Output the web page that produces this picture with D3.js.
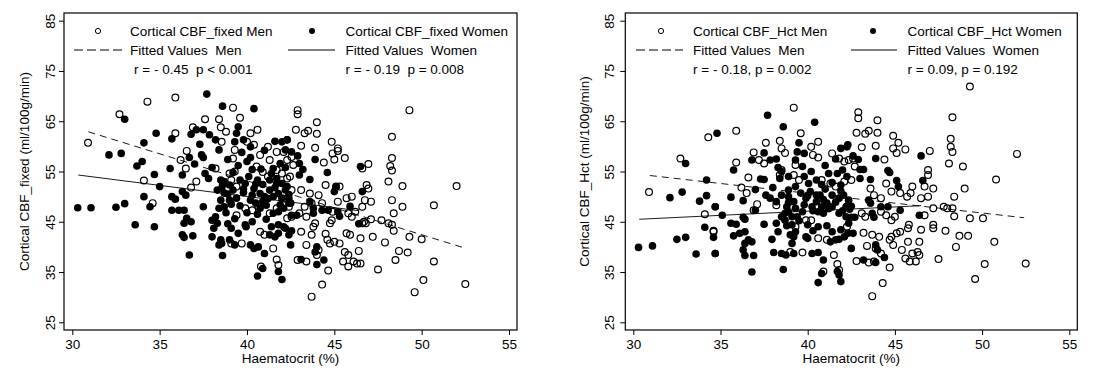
<!DOCTYPE html>
<html><head><meta charset="utf-8">
<script src="https://cdn.jsdelivr.net/npm/d3@7"></script>
<style>
html,body{margin:0;padding:0;background:#fff;}
svg{display:block;font-family:"Liberation Sans",Arial,sans-serif;}
text{white-space:pre;}
</style></head><body>
<svg id="c" width="1104" height="392"></svg>
<script>
const xTicks = [30,35,40,45,50,55];
const yTicks = [25,35,45,55,65,75,85];

// Left panel: Cortical CBF_fixed vs Haematocrit
const menFixed = [
[30.9,60.7],[32.7,66.4],[34.3,68.9],[34.1,53.2],
[35.9,69.7],[39.2,67.7],[39.6,65.7],[37.6,65.4],[38.4,65.4],[36.9,63.8],[38.5,63.8],[38.8,62.9],[38.55,60.9],[35.9,62.6],
[40.2,62.6],[40.6,63.3],[40.0,60.9],[40.4,60.3],[39.3,59.3],[39.2,57.6],[40.75,58.3],[41.3,57.3],[41.2,59.9],[41.7,58.9],
[42.1,58.9],[42.3,57.3],[36.55,59.1],[36.2,57.3],[36.5,55.6],[38.2,55.6],[37.1,53.0],[36.8,51.8],[39.0,54.6],[39.3,55.0],
[39.1,53.3],[39.4,52.0],[40.55,56.0],[40.9,54.9],[41.2,54.0],[41.7,55.3],[42.0,54.6],[42.3,53.6],[34.6,48.7],[39.9,47.7],
[40.3,47.3],[40.65,48.0],[39.4,46.3],[41.3,46.7],[41.7,47.7],[40.75,43.0],[41.0,42.4],[41.5,39.7],[41.7,37.5],[41.8,36.4],
[40.8,36.1],[39.7,40.7],[39.1,40.7],[42.3,45.7],
[42.9,67.2],[42.9,66.4],[49.3,67.2],[44.0,64.8],[42.8,63.3],[43.3,62.6],[43.5,63.1],[44.0,62.5],[44.85,60.9],[45.2,59.6],
[45.2,59.1],[45.6,57.7],[44.9,58.6],[45.0,57.4],[43.1,60.1],[43.9,59.7],[44.4,56.8],[48.3,61.9],[48.3,57.7],[48.2,56.1],
[48.3,55.2],[46.95,56.5],[48.1,53.0],[48.9,52.1],[46.6,55.6],[46.85,52.3],[46.95,51.6],[42.55,57.9],[42.65,56.3],[42.46,54.0],
[44.5,52.3],[45.1,52.0],[45.3,52.0],[47.1,49.0],[48.3,49.3],[48.9,48.0],[48.4,46.7],[47.1,45.5],[47.7,45.3],[48.1,44.7],
[48.3,44.4],[46.8,44.7],[48.4,43.2],[49.3,42.0],[50.0,41.5],[47.2,42.0],[47.9,40.9],[48.7,39.2],[49.2,38.9],[48.5,37.4],
[50.1,33.4],[49.6,31.0],[47.5,35.5],[44.3,32.5],[43.7,30.1],[44.65,35.3],[45.8,36.1],[46.1,37.1],[46.3,36.7],[46.5,36.7],
[45.6,39.0],[45.8,38.4],[45.5,37.1],[46.4,39.2],[42.9,37.4],[43.4,37.1],[44.0,38.4],[44.1,39.4],[43.4,40.4],[43.1,43.0],
[43.7,42.4],[44.5,42.6],[44.6,41.4],[44.75,40.7],[45.0,41.0],[45.3,40.7],[45.7,42.7],[45.9,42.4],[46.5,41.7],[44.75,44.7],
[44.85,45.3],[43.8,44.0],[43.9,44.7],[46.6,44.7],[46.7,45.0],[46.0,46.0],[46.6,48.0],[45.2,49.0],[45.7,49.7],[46.0,50.0],
[46.75,49.3],[43.1,51.3],[43.6,50.6],[44.1,50.3],[42.55,51.3],[42.2,49.6],[42.4,48.0],[43.3,48.0],[43.7,48.7],[44.3,48.7],
[43.0,46.7],[43.4,46.0],[44.9,47.0],[45.8,46.7],[46.2,47.0],[42.55,46.0],
[52.0,52.1],[50.7,48.3],[50.7,37.1],[52.5,32.6]
];
const womenFixed = [
[30.31,47.8],[31.07,47.8],[32.5,47.9],[33.0,48.6],[33.6,44.4],[34.1,50.0],[33.0,65.4],[32.1,58.3],[32.8,58.6],[34.1,60.7],
[33.7,56.1],[34.0,57.0],
[37.7,70.4],[38.6,68.0],[40.4,67.5],[34.8,62.6],[35.7,61.5],[36.8,62.4],[37.1,63.3],[37.5,63.3],[37.85,62.3],[37.3,60.4],
[38.2,61.3],[39.5,63.9],[39.4,62.6],[39.3,60.9],[39.8,61.3],[40.2,59.9],[38.4,59.3],[36.7,57.8],[37.4,58.3],[37.5,57.8],
[37.0,56.5],[38.0,55.8],[35.6,55.6],[34.7,54.4],[36.3,54.3],[37.6,54.6],[37.8,53.6],[35.0,52.0],[38.5,53.3],[38.6,52.3],
[38.7,50.7],[38.5,49.3],[38.4,47.7],[38.2,46.0],[35.7,50.0],[35.9,49.5],[36.3,51.0],[36.5,50.3],[34.45,48.0],[35.7,47.3],
[36.1,47.3],[36.4,47.3],[37.5,48.0],[36.55,45.7],[36.8,45.0],[36.4,44.7],[34.7,44.0],[36.3,42.4],[36.9,42.2],[36.4,41.9],
[38.0,42.0],[38.5,41.4],[38.55,40.7],[38.4,40.4],[38.0,45.3],[38.3,44.7],[38.1,43.7],[39.1,43.7],[39.5,42.7],[39.0,41.4],
[39.3,40.4],[39.9,44.4],[39.95,44.0],[40.2,40.4],[40.4,39.7],[40.65,40.0],[36.7,38.4],[38.6,38.3],[41.0,38.7],[41.6,42.0],
[41.8,42.7],[41.3,42.4],[41.4,44.0],[41.8,44.4],[42.1,44.0],[41.5,46.7],[41.8,47.0],[40.9,35.7],[40.6,34.2],[41.8,35.1],
[42.0,33.5],
[38.3,51.3],[38.55,51.6],[38.7,53.0],[39.0,52.3],[39.2,51.3],[39.6,53.3],[39.9,52.6],[40.1,54.0],[40.4,51.6],[40.6,53.3],
[40.75,50.6],[41.0,50.0],[41.3,51.3],[41.5,50.0],[41.8,50.6],[42.0,49.7],[42.2,51.3],[41.7,52.6],[41.3,53.3],[40.2,49.3],
[40.5,48.7],[39.4,49.7],[39.0,49.3],[38.7,48.0],[40.75,47.7],[41.1,48.3],[42.1,47.7],[42.4,48.7],[42.3,52.0],[41.9,56.6],
[42.2,55.8],[41.5,55.6],[42.0,60.9],[42.3,61.3],[41.7,53.6],[39.2,54.8],[39.5,56.2],[40.0,57.0],[40.3,55.4],[39.8,50.8],
[40.9,52.4],
[38.9,50.5],[39.1,48.5],[39.6,48.2],[39.8,51.5],[40.3,50.3],[40.5,52.5],[40.9,49.0],[41.2,49.6],[41.6,51.8],[42.0,52.6],
[41.9,48.4],[40.0,46.8],[40.6,46.5],[39.3,45.6],[38.8,46.8],[38.9,44.6],[40.3,45.0],[41.1,45.5],[42.4,50.4],[41.4,54.6],
[40.8,55.5],[40.2,57.8],[39.7,58.8],[38.9,57.4],[41.0,59.2],[41.6,61.0],
[42.3,61.3],[42.2,59.3],[42.55,58.9],[42.9,58.1],[43.0,56.6],[43.2,55.4],[43.0,54.3],[43.6,53.4],[43.9,57.4],[44.6,54.8],
[45.1,51.9],[45.0,51.0],[46.5,56.0],[46.6,51.0],[42.4,49.6],[42.5,48.7],[43.6,49.0],[43.8,47.7],[44.3,47.3],[44.65,47.3],
[45.2,47.0],[45.3,46.1],[45.9,48.1],[46.4,44.6],[42.55,46.3],[42.85,46.3],[42.2,43.7],[42.55,43.2],[42.4,42.4],[42.5,40.4],
[43.8,46.7],[44.0,40.0],[43.9,39.0],[43.1,37.5],[44.0,36.5],[44.4,37.4]
];
// Right panel: Cortical CBF_Hct vs Haematocrit
const menHct = [
[30.9,50.9],[34.1,46.5],[34.6,43.2],[32.7,57.6],[34.3,61.8],
[39.2,67.7],[35.9,63.1],[37.6,60.7],[38.4,61.1],[38.5,59.6],[38.7,58.7],[39.6,62.6],[40.6,60.9],[40.2,59.9],[40.3,58.3],
[40.6,57.8],[36.9,58.8],[37.2,57.3],[37.5,56.6],[35.9,56.8],[38.5,55.3],[38.4,54.3],[39.3,56.3],[39.2,54.3],[39.5,53.3],
[41.4,58.6],[41.8,57.6],[42.1,57.0],[42.35,57.3],[36.6,53.8],[36.2,51.8],[36.5,50.7],[37.1,48.5],[36.9,47.3],[34.6,43.0],
[38.2,48.3],[39.9,45.3],[40.2,45.3],[39.3,44.0],[40.6,41.7],[41.1,41.4],[39.7,38.9],[39.0,39.0],[41.5,38.4],[41.7,36.6],
[41.8,35.4],[40.9,35.1],[42.25,44.0],[40.8,53.3],[41.3,52.6],[41.6,52.0],[42.1,53.0],
[49.3,71.9],[42.9,66.8],[42.9,65.6],[44.0,65.2],[48.3,65.8],[42.8,62.7],[43.3,62.5],[43.5,63.1],[44.0,62.7],[44.9,62.1],
[45.2,60.7],[44.9,59.6],[45.1,58.7],[45.6,59.4],[43.1,59.8],[43.9,60.1],[44.4,57.4],[47.0,59.1],[48.2,61.5],[48.2,59.9],
[48.3,58.9],[48.1,56.6],[48.9,56.0],[46.9,55.3],[46.9,54.3],[49.0,51.6],[48.4,50.0],[46.7,52.0],[47.2,51.6],[46.9,50.0],
[42.5,53.3],[42.7,56.0],[42.6,57.6],[46.0,52.0],[45.9,50.7],[46.5,49.7],[44.5,52.6],[43.6,51.6],[43.8,50.3],[44.2,49.7],
[44.8,51.0],[45.3,50.7],[45.7,50.0],[47.8,48.0],[48.0,47.7],[48.3,47.7],[48.4,46.1],[49.3,45.7],[50.05,45.7],[47.2,47.7],
[46.7,46.3],[47.2,44.4],[47.2,43.7],[47.9,43.2],[46.5,43.4],[45.8,44.4],[45.75,43.7],[45.0,46.0],[44.8,45.3],[44.2,47.0],
[44.5,46.3],[43.1,46.7],[43.3,46.0],[48.7,42.2],[49.2,42.2],[48.5,40.0],[47.5,37.6],[50.15,36.6],[49.6,33.6],[44.7,35.9],
[44.3,32.8],[43.7,30.2],[45.6,37.7],[45.85,37.1],[46.2,37.1],[46.4,38.4],[46.0,38.7],[45.75,41.0],[46.4,41.0],[46.3,39.0],
[45.1,42.7],[45.3,43.0],[44.8,42.0],[44.7,41.4],[43.2,42.8],[43.7,42.4],[44.1,42.0],[43.4,40.2],[43.9,39.7],[44.2,38.7],
[42.8,37.2],[43.5,36.9],[43.8,37.1],[44.9,40.4],[45.4,39.4],
[52.5,36.7],[50.7,41.0],[52.0,58.5],[50.8,53.4]
];
const womenHct = [
[30.3,39.9],[31.1,40.2],[32.5,41.5],[33.0,41.9],[32.1,49.8],[32.8,50.9],[33.6,38.6],[33.8,49.1],[34.2,50.2],[34.1,43.9],
[34.6,41.9],[34.7,38.7],[34.7,48.0],[33.0,56.6],[34.2,53.3],
[37.7,66.2],[38.6,63.9],[40.4,64.8],[34.8,62.6],[35.75,55.3],[36.8,57.3],[37.5,58.7],[37.85,57.3],[38.2,57.5],[37.3,53.5],
[37.5,53.4],[37.0,51.4],[38.3,55.8],[38.5,55.0],[38.4,53.6],[39.5,60.7],[39.4,58.9],[39.3,57.3],[39.8,58.6],[38.0,51.8],
[37.6,50.3],[37.85,49.7],[38.2,49.0],[38.5,50.3],[38.9,51.3],[39.3,52.0],[35.6,49.9],[36.3,49.2],[34.7,48.0],[35.1,46.3],
[35.6,44.7],[35.9,44.5],[36.3,45.9],[36.4,45.5],[37.0,47.3],[37.5,44.5],[35.75,42.2],[36.1,42.7],[36.4,43.0],[36.6,41.4],
[36.8,41.0],[36.4,40.7],[34.7,38.7],[36.3,39.4],[36.4,38.3],[36.9,38.3],[36.8,35.0],[37.95,41.5],[38.05,38.9],[38.5,38.7],
[38.75,38.4],[39.2,38.7],[38.6,35.5],[38.2,44.7],[38.3,43.0],[38.5,46.0],[38.7,46.7],[38.8,48.0],[39.1,44.4],[39.2,42.0],
[39.1,40.7],[39.4,46.0],[39.9,42.0],[40.0,41.7],[40.25,38.7],[40.6,38.9],[40.9,37.4],[40.8,34.7],[40.6,32.9],[41.9,33.1],
[41.7,35.1],[41.8,34.4],[41.3,41.0],[41.6,41.4],[41.8,41.5],[42.1,42.0],[41.4,43.0],[41.9,43.4],[39.8,54.0],[40.05,52.6],
[40.5,53.3],[41.2,54.6],[41.7,54.6],[42.0,55.3],[42.25,59.9],[41.9,59.6],[41.4,48.0],[41.8,46.7],[42.2,46.0],[42.35,44.7],
[38.9,50.0],[39.2,49.0],[39.6,50.7],[39.9,49.7],[40.15,51.0],[40.25,48.0],[40.5,49.0],[40.8,48.0],[41.1,48.7],[40.6,47.0],
[40.9,46.7],[41.4,50.3],[41.8,49.7],[42.06,50.3],[42.35,49.3],[42.2,48.0],[41.9,52.3],[42.25,54.0],[39.7,47.0],[39.3,47.7],
[38.7,45.3],[38.9,47.0],[40.0,50.2],[40.7,50.3],[41.0,51.5],
[38.9,48.8],[39.1,46.0],[39.5,45.2],[39.8,48.4],[40.3,47.2],[40.5,50.3],[40.9,49.4],[41.2,47.6],[41.6,48.9],[42.0,47.2],
[41.9,51.1],[40.0,44.4],[40.6,44.0],[39.3,43.0],[38.8,44.2],[39.0,42.4],[40.3,43.2],[41.1,44.2],[42.4,47.5],[41.4,52.8],
[40.8,52.4],[40.2,55.0],[39.7,56.0],[38.9,54.0],[41.0,56.2],[41.6,57.5],
[42.3,60.3],[42.6,58.1],[42.9,57.4],[43.0,55.4],[43.2,55.4],[43.0,53.6],[43.6,53.4],[43.9,57.6],[44.6,55.2],[44.7,54.8],
[45.1,53.2],[45.2,52.0],[46.5,58.1],[46.6,53.2],[42.3,48.3],[42.5,48.1],[43.5,49.3],[43.6,48.7],[44.2,48.0],[44.6,48.0],
[45.3,47.3],[46.4,46.3],[43.7,46.7],[43.8,45.9],[42.5,45.9],[42.7,45.9],[42.3,42.7],[42.6,42.7],[42.5,39.7],[43.9,40.4],
[44.0,39.4],[43.2,37.4],[43.9,36.9],[44.4,37.9]
];
const fitMenFixed = [[30.92,62.9],[52.49,39.75]];
const fitWomenFixed = [[30.34,54.3],[46.4,47.2]];
const fitMenHct = [[30.95,54.2],[52.41,45.8]];
const fitWomenHct = [[30.34,45.5],[46.5,48.2]];

const panels = [
  {frame:[64,13,517,330], xr:[72.3,509], yTitle:"Cortical CBF_fixed (ml/100g/min)", yTitleX:24, yLabX:50,
   men:menFixed, women:womenFixed, fitM:fitMenFixed, fitW:fitWomenFixed,
   leg:{mk:98, tx:130, dash:[74,122], mk2:312, tx2:345.5, sol:[288,335], rx:134,
        l1:"Cortical CBF_fixed Men", l2:"Cortical CBF_fixed Women", r1:"r = - 0.45  p < 0.001", r2:"r = - 0.19  p = 0.008"}},
  {frame:[625.3,13,1077.3,330], xr:[633.3,1069.3], yTitle:"Cortical CBF_Hct (ml/100g/min)", yTitleX:584, yLabX:609,
   men:menHct, women:womenHct, fitM:fitMenHct, fitW:fitWomenHct,
   leg:{mk:661, tx:693, dash:[636,683], mk2:873, tx2:907.5, sol:[851,897], rx:693,
        l1:"Cortical CBF_Hct Men", l2:"Cortical CBF_Hct Women", r1:"r = - 0.18, p = 0.002", r2:"r = 0.09, p = 0.192"}}
];

const svg = d3.select("#c");
svg.append("rect").attr("width",1104).attr("height",392).attr("fill","#fff");
const FS = 13.5;

panels.forEach(p => {
  const [fx0,fy0,fx1,fy1] = p.frame;
  const x = d3.scaleLinear().domain([30,55]).range(p.xr);
  const y = d3.scaleLinear().domain([25,85]).range([322.3,20.7]);
  const g = svg.append("g");

  const xa = g.append("g").attr("transform",`translate(0,${fy1})`)
    .call(d3.axisBottom(x).tickValues(xTicks).tickSize(5).tickPadding(4).tickFormat(d3.format("d")));
  xa.select(".domain").remove();
  xa.selectAll("line").attr("stroke","#000");
  xa.selectAll("text").attr("font-size",FS).attr("fill","#000").attr("font-family","Liberation Sans, Arial, sans-serif");

  const ya = g.append("g").attr("transform",`translate(${fx0},0)`)
    .call(d3.axisLeft(y).tickValues(yTicks).tickSize(5).tickFormat(d3.format("d")));
  ya.select(".domain").remove();
  ya.selectAll("line").attr("stroke","#000");
  ya.selectAll("text").attr("font-size",FS).attr("fill","#000").attr("font-family","Liberation Sans, Arial, sans-serif")
    .attr("x",null).attr("dy",null).attr("text-anchor","middle").attr("dominant-baseline","central")
    .attr("transform",`translate(${p.yLabX-fx0},0) rotate(-90)`);

  g.append("rect").attr("x",fx0).attr("y",fy0).attr("width",fx1-fx0).attr("height",fy1-fy0)
    .attr("fill","none").attr("stroke","#000").attr("stroke-width",1.2);

  g.append("text").attr("transform",`translate(${p.yTitleX},${(fy0+fy1)/2}) rotate(-90)`)
    .attr("text-anchor","middle").attr("dominant-baseline","central").attr("font-size",FS).text(p.yTitle);
  g.append("text").attr("x",(fx0+fx1)/2).attr("y",363).attr("text-anchor","middle").attr("font-size",FS).text("Haematocrit (%)");

  g.append("g").selectAll("circle").data(p.men).join("circle")
    .attr("cx",d=>x(d[0])).attr("cy",d=>y(d[1])).attr("r",3.4)
    .attr("fill","none").attr("stroke","#000").attr("stroke-width",1.2);
  g.append("g").selectAll("circle").data(p.women).join("circle")
    .attr("cx",d=>x(d[0])).attr("cy",d=>y(d[1])).attr("r",3.8)
    .attr("fill","#000");

  const line = d3.line().x(d=>x(d[0])).y(d=>y(d[1]));
  g.append("path").attr("d",line(p.fitM)).attr("fill","none").attr("stroke","#000").attr("stroke-width",0.9).attr("stroke-dasharray","7,5");
  g.append("path").attr("d",line(p.fitW)).attr("fill","none").attr("stroke","#000").attr("stroke-width",0.9);

  const L = p.leg;
  g.append("circle").attr("cx",L.mk).attr("cy",31).attr("r",2.6).attr("fill","none").attr("stroke","#000").attr("stroke-width",1);
  g.append("text").attr("x",L.tx).attr("y",35.5).attr("font-size",FS).text(L.l1);
  g.append("circle").attr("cx",L.mk2).attr("cy",31).attr("r",3).attr("fill","#000");
  g.append("text").attr("x",L.tx2).attr("y",35.5).attr("font-size",FS).text(L.l2);
  g.append("line").attr("x1",L.dash[0]).attr("x2",L.dash[1]).attr("y1",50).attr("y2",50)
    .attr("stroke","#000").attr("stroke-width",1).attr("stroke-dasharray","9,4");
  g.append("text").attr("x",L.tx).attr("y",54.5).attr("font-size",FS).text("Fitted Values  Men");
  g.append("line").attr("x1",L.sol[0]).attr("x2",L.sol[1]).attr("y1",50).attr("y2",50)
    .attr("stroke","#000").attr("stroke-width",1);
  g.append("text").attr("x",L.tx2).attr("y",54.5).attr("font-size",FS).text("Fitted Values  Women");
  g.append("text").attr("x",L.rx).attr("y",73.5).attr("font-size",FS).text(L.r1);
  g.append("text").attr("x",L.tx2).attr("y",73.5).attr("font-size",FS).text(L.r2);
});
</script>
</body></html>
